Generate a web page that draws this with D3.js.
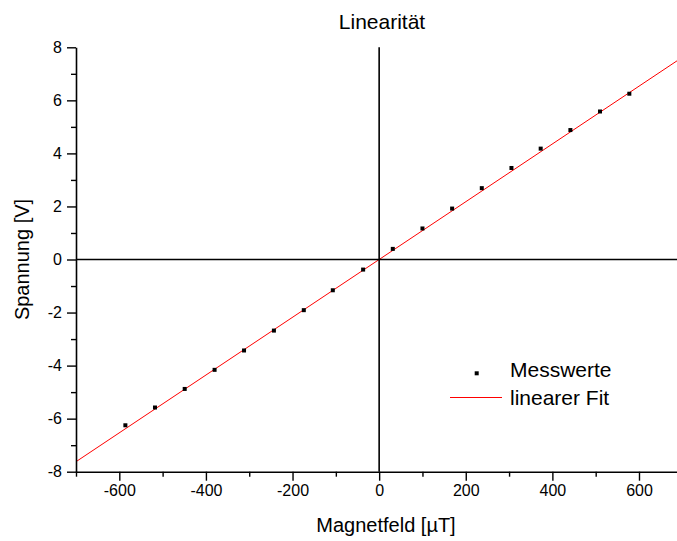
<!DOCTYPE html>
<html>
<head>
<meta charset="utf-8">
<script src="https://cdn.jsdelivr.net/npm/d3@7"></script>
<style>
  html, body { margin: 0; padding: 0; background: #fff; }
  svg { display: block; font-family: Arial, "Liberation Sans", sans-serif; }
</style>
</head>
<body>
<svg id="chart" width="677" height="541"></svg>
<script>
// Measured field strength [µT] and output voltage [V]
const fieldValues = [-586, -517.6, -449, -380, -312, -243, -174, -107, -37,
                     31.5, 100, 168.5, 237, 305.5, 373, 441.6, 510, 577.7];
const voltageValues = [-6.25, -5.58, -4.88, -4.16, -3.43, -2.68, -1.91, -1.16, -0.38,
                       0.40, 1.17, 1.92, 2.69, 3.45, 4.18, 4.88, 5.58, 6.25];
// Linear fit parameters: U = slope * B + intercept
const fitSlope = 0.01089;
const fitIntercept = 0.0;
const xTicks = [-600, -400, -200, 0, 200, 400, 600];
const xMinorTicks = [-700, -500, -300, -100, 100, 300, 500, 700];
const yTicks = [-8, -6, -4, -2, 0, 2, 4, 6, 8];
const yMinorTicks = [-7, -5, -3, -1, 1, 3, 5, 7];
const legendLabels = ["Messwerte", "linearer Fit"];

const svg = d3.select("#chart");
const x = d3.scaleLinear().domain([-700, 700]).range([76, 682.3]);
const y = d3.scaleLinear().domain([-8, 8]).range([471.7, 47.3]);
const plainFormat = d => String(d);   // hyphen-minus labels

// Fit line
const fitDomain = [-700, 700];
svg.append("line")
  .attr("x1", x(fitDomain[0])).attr("y1", y(fitSlope * fitDomain[0] + fitIntercept))
  .attr("x2", x(fitDomain[1])).attr("y2", y(fitSlope * fitDomain[1] + fitIntercept))
  .attr("stroke", "#ff0000").attr("stroke-width", 1);

// Zero lines through the origin
svg.append("line")
  .attr("x1", x(0)).attr("x2", x(0)).attr("y1", y(8)).attr("y2", y(-8))
  .attr("stroke", "#000").attr("stroke-width", 1.6);
svg.append("line")
  .attr("x1", x(-700)).attr("x2", x(700)).attr("y1", y(0)).attr("y2", y(0))
  .attr("stroke", "#000").attr("stroke-width", 1.6);

// Axes
const xAxis = svg.append("g").attr("transform", `translate(0,${y(-8)})`)
  .call(d3.axisBottom(x).tickValues(xTicks).tickFormat(plainFormat).tickSize(9).tickPadding(4).tickSizeOuter(0));
const xMinor = svg.append("g").attr("transform", `translate(0,${y(-8)})`)
  .call(d3.axisBottom(x).tickValues(xMinorTicks).tickSize(5).tickFormat("").tickSizeOuter(0));
const yAxis = svg.append("g").attr("transform", `translate(${x(-700)},0)`)
  .call(d3.axisLeft(y).tickValues(yTicks).tickFormat(plainFormat).tickSize(9).tickPadding(5).tickSizeOuter(0));
const yMinor = svg.append("g").attr("transform", `translate(${x(-700)},0)`)
  .call(d3.axisLeft(y).tickValues(yMinorTicks).tickSize(5).tickFormat("").tickSizeOuter(0));

[xAxis, xMinor, yAxis, yMinor].forEach(g => {
  g.selectAll("path").attr("stroke", "#000").attr("stroke-width", 1.6);
  g.selectAll("line").attr("stroke", "#000").attr("stroke-width", 1.4);
  g.selectAll("text").attr("fill", "#000").style("font-size", "16px")
    .style("font-family", "Arial, 'Liberation Sans', sans-serif");
});
xMinor.select("path").remove();
yMinor.select("path").remove();

// Data points
svg.append("g").selectAll("rect")
  .data(fieldValues.map((b, i) => [b, voltageValues[i]]))
  .join("rect")
  .attr("x", d => x(d[0]) - 2).attr("y", d => y(d[1]) - 2)
  .attr("width", 4).attr("height", 4).attr("fill", "#000");

// Titles
svg.append("text").attr("x", 382).attr("y", 29).attr("text-anchor", "middle")
  .style("font-size", "21px").text("Linearität");
svg.append("text").attr("x", 386).attr("y", 532).attr("text-anchor", "middle")
  .style("font-size", "20px").text("Magnetfeld [µT]");
svg.append("text").attr("transform", `translate(29,${y(0)}) rotate(-90)`)
  .attr("text-anchor", "middle").style("font-size", "20px").text("Spannung [V]");

// Legend
const legend = svg.append("g");
legend.append("rect").attr("x", 474.7).attr("y", 371.3).attr("width", 4).attr("height", 4).attr("fill", "#000");
legend.append("text").attr("x", 510).attr("y", 377).style("font-size", "21px").text(legendLabels[0]);
legend.append("line").attr("x1", 450).attr("x2", 502).attr("y1", 397.5).attr("y2", 397.5)
  .attr("stroke", "#ff0000").attr("stroke-width", 1);
legend.append("text").attr("x", 510).attr("y", 405).style("font-size", "21px").text(legendLabels[1]);
</script>
</body>
</html>
